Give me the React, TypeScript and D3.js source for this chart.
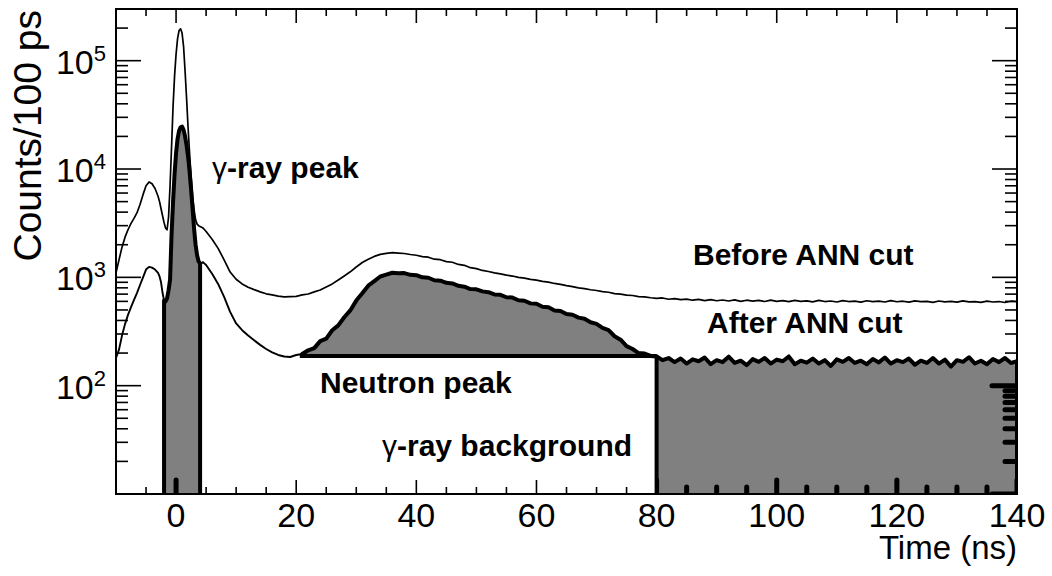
import React from 'react';
import * as d3 from 'd3';

// ---------- data ----------
// bin centres (ns): coarser far left, fine around the prompt peak, 1 ns afterwards
const TIME_NS: number[] = [
  ...d3.range(-10, -3, 0.5),
  ...d3.range(-3, 5, 0.25),
  ...d3.range(5, 141, 1),
];

const BEFORE_COUNTS: number[] = [
  // -10 .. -3.5
  1100, 1450, 1900, 2350, 2750, 3150, 3500, 3950, 4700, 5800, 7000, 7600, 7300, 6600,
  // -3 .. 4.75 (0.25 ns)
  5600, 5000, 4300, 3700, 3200, 2850, 2750, 3600, 7000, 16000,
  38000, 72000, 115000, 160000, 190000, 197000, 180000, 135000, 80000, 45000,
  24000, 14000, 8500, 5600, 4200, 3400, 3100, 3000, 2950, 2900,
  2850, 2750,
  // 5 .. 140 (1 ns)
  2650, 2250, 1850, 1450, 1120, 960, 870, 810, 770, 735,
  705, 690, 672, 660, 664, 668, 688, 702, 735, 765,
  815, 870, 945, 1030, 1125, 1245, 1370, 1470, 1560, 1630,
  1665, 1690, 1675, 1660, 1625, 1600, 1555, 1535, 1470, 1455,
  1395, 1378, 1315, 1292, 1228, 1202, 1158, 1132, 1098, 1078,
  1048, 1028, 998, 982, 958, 942, 918, 902, 878, 862,
  840, 822, 800, 786, 768, 756, 738, 728, 708, 700,
  686, 680, 664, 660, 648, 640, 645, 628, 635, 622,
  630, 615, 625, 610, 622, 608, 618, 605, 620, 600,
  615, 603, 612, 598, 616, 600, 610, 596, 612, 600,
  606, 594, 612, 598, 605, 592, 610, 598, 604, 590,
  608, 596, 603, 592, 610, 595, 602, 590, 606, 596,
  600, 588, 605, 594, 600, 590, 606, 593, 598, 588,
  604, 592, 598, 586, 602, 595,
];

const AFTER_COUNTS: number[] = [
  // -10 .. -3.5
  180, 215, 290, 370, 450, 530, 620, 720, 850, 1000, 1180, 1250, 1230, 1180,
  // -3 .. 4.75 (0.25 ns)
  1100, 1020, 900, 720, 610, 600, 640, 760, 950, 2500,
  5000, 9000, 14000, 19000, 22500, 24300, 24600, 23000, 20000, 16500,
  13000, 9500, 6500, 4300, 2800, 2000, 1600, 1400, 1350, 1360,
  1380, 1340,
  // 5 .. 140 (1 ns)
  1300, 1080, 870, 660, 480, 375, 325, 290, 262, 238,
  218, 203, 192, 186, 184, 192, 196, 212, 222, 258,
  272, 325, 360, 428, 495, 610, 712, 838, 922, 1018,
  1058, 1102, 1092, 1095, 1055, 1048, 1000, 992, 940, 932,
  890, 878, 835, 820, 780, 775, 742, 730, 695, 690,
  655, 650, 615, 608, 575, 570, 535, 530, 495, 490,
  458, 452, 425, 415, 385, 372, 342, 326, 286, 266,
  232, 218, 200, 198, 188, 186, 172, 180, 165, 178,
  160, 175, 168, 182, 158, 172, 165, 185, 162, 170,
  155, 176, 166, 180, 160, 174, 168, 186, 158, 170,
  163, 178, 160, 172, 152, 175, 166, 180, 162, 170,
  158, 176, 164, 182, 160, 172, 165, 178, 156, 170,
  162, 180, 160, 174, 150, 172, 166, 183, 160, 170,
  158, 176, 165, 180, 162, 168,
];

const X_DOMAIN: [number, number] = [-10, 140];
const Y_DOMAIN: [number, number] = [10, 3e5];
const X_MAJOR_TICKS = [0, 20, 40, 60, 80, 100, 120, 140];
const X_MINOR_STEP = 5;
const Y_MAJOR_TICKS = [10, 100, 1000, 10000, 100000];
const Y_LABEL_EXPONENTS = [2, 3, 4, 5];

const GAMMA_WINDOW: [number, number] = [-2, 4];
const NEUTRON_WINDOW: [number, number] = [20.6, 80];
const NEUTRON_BASELINE = 188;
const BACKGROUND_WINDOW: [number, number] = [80, 140];

// ---------- layout ----------
const W = 1052;
const H = 576;
const P = { left: 116, right: 1017, top: 9, bottom: 494 };
const FONT = '"Liberation Sans", Arial, Helvetica, sans-serif';
const GRAY = '#808080';

export default function App() {
  const x = d3.scaleLinear().domain(X_DOMAIN).range([P.left, P.right]);
  const y = d3.scaleLog().domain(Y_DOMAIN).range([P.bottom, P.top]);

  const before: [number, number][] = TIME_NS.map((t, i) => [t, BEFORE_COUNTS[i]]);
  const after: [number, number][] = TIME_NS.map((t, i) => [t, AFTER_COUNTS[i]]);

  const line = d3
    .line<[number, number]>()
    .x((d) => x(d[0]))
    .y((d) => y(d[1]));

  const inWin = (w: [number, number]) => (d: [number, number]) => d[0] >= w[0] && d[0] <= w[1];

  const gammaPts = after.filter(inWin(GAMMA_WINDOW));
  const neutronPts = after.filter(inWin(NEUTRON_WINDOW));
  const bgPts = after.filter(inWin(BACKGROUND_WINDOW));

  const areaFromBottom = d3
    .area<[number, number]>()
    .x((d) => x(d[0]))
    .y0(y(Y_DOMAIN[0]))
    .y1((d) => y(d[1]));
  const areaNeutron = d3
    .area<[number, number]>()
    .x((d) => x(d[0]))
    .y0(y(NEUTRON_BASELINE))
    .y1((d) => y(Math.max(d[1], NEUTRON_BASELINE)));

  const gammaArea = areaFromBottom(gammaPts) || '';
  const bgArea = areaFromBottom(bgPts) || '';
  const neutronArea = areaNeutron(neutronPts) || '';

  const gammaOutline =
    line([[GAMMA_WINDOW[0], Y_DOMAIN[0]], ...gammaPts, [GAMMA_WINDOW[1], Y_DOMAIN[0]]]) || '';
  const bgOutline =
    line([[BACKGROUND_WINDOW[0], Y_DOMAIN[0]], ...bgPts, [BACKGROUND_WINDOW[1], Y_DOMAIN[0]]]) || '';
  const neutronCurve = line(neutronPts) || '';
  const neutronBase =
    line([
      [NEUTRON_WINDOW[0], NEUTRON_BASELINE],
      [NEUTRON_WINDOW[1], NEUTRON_BASELINE],
    ]) || '';

  // ticks
  const xTicks = d3.range(X_DOMAIN[0], X_DOMAIN[1] + 0.001, X_MINOR_STEP).map((t) => ({
    t,
    major: X_MAJOR_TICKS.includes(t),
  }));
  const yTicks: { v: number; major: boolean }[] = [];
  Y_MAJOR_TICKS.forEach((dec) => {
    yTicks.push({ v: dec, major: true });
    for (let m = 2; m <= 9; m++) {
      if (dec * m <= Y_DOMAIN[1] + 1) yTicks.push({ v: dec * m, major: false });
    }
  });
  const XMAJ = 14,
    XMIN = 7,
    YMAJ = 25,
    YMIN = 12;

  const tickEls: JSX.Element[] = [];
  xTicks.forEach(({ t, major }, i) => {
    const px = x(t);
    const len = major ? XMAJ : XMIN;
    tickEls.push(<line key={'xb' + i} x1={px} x2={px} y1={P.bottom} y2={P.bottom - len} />);
    tickEls.push(<line key={'xt' + i} x1={px} x2={px} y1={P.top} y2={P.top + len} />);
  });
  yTicks.forEach(({ v, major }, i) => {
    const py = y(v);
    const len = major ? YMAJ : YMIN;
    tickEls.push(<line key={'yl' + i} x1={P.left} x2={P.left + len} y1={py} y2={py} />);
    tickEls.push(<line key={'yr' + i} x1={P.right} x2={P.right - len} y1={py} y2={py} />);
  });

  const blobEls: JSX.Element[] = [];
  xTicks.forEach(({ t, major }, i) => {
    const px = x(t);
    const len = major ? XMAJ : XMIN;
    blobEls.push(<line key={'bx' + i} x1={px} x2={px} y1={P.bottom} y2={P.bottom - len} />);
  });
  yTicks.forEach(({ v, major }, i) => {
    const py = y(v);
    const len = major ? YMAJ : YMIN;
    blobEls.push(<line key={'by' + i} x1={P.right} x2={P.right - len} y1={py} y2={py} />);
  });

  const labelStyle = { fontFamily: FONT, fontWeight: 700, fontSize: 30 } as const;

  return (
    <svg
      width={W}
      height={H}
      style={{ position: 'absolute', left: 0, top: 0, background: '#fff' }}
      fontFamily={FONT}
    >
      <defs>
        <clipPath id="shade-clip">
          <path d={gammaArea} />
          <path d={bgArea} />
        </clipPath>
        <clipPath id="plot-clip">
          <rect x={P.left} y={P.top} width={P.right - P.left} height={P.bottom - P.top} />
        </clipPath>
      </defs>
      <rect x={0} y={0} width={W} height={H} fill="#fff" />

      <g clipPath="url(#plot-clip)">
        {/* shaded regions */}
        <path d={gammaArea} fill={GRAY} />
        <path d={neutronArea} fill={GRAY} />
        <path d={bgArea} fill={GRAY} />

        {/* thin curves */}
        <path d={line(before) || ''} fill="none" stroke="#000" strokeWidth={1.7} strokeLinejoin="round" />
        <path d={line(after) || ''} fill="none" stroke="#000" strokeWidth={1.9} strokeLinejoin="round" />

        {/* thick outlines of the regions */}
        <g fill="none" stroke="#000" strokeWidth={4} strokeLinejoin="round" strokeLinecap="round">
          <path d={gammaOutline} />
          <path d={neutronCurve} />
          <path d={neutronBase} strokeLinecap="butt" />
          <path d={bgOutline} />
        </g>

        {/* tick marks re-drawn thick over shaded regions */}
        <g clipPath="url(#shade-clip)" stroke="#000" strokeWidth={5} strokeLinecap="round">
          {blobEls}
        </g>
      </g>

      {/* frame & ticks */}
      <g stroke="#000" strokeWidth={1.6}>{tickEls}</g>
      <rect
        x={P.left}
        y={P.top}
        width={P.right - P.left}
        height={P.bottom - P.top}
        fill="none"
        stroke="#000"
        strokeWidth={2}
      />

      {/* x tick labels */}
      {X_MAJOR_TICKS.map((t) => (
        <text key={'xl' + t} x={x(t)} y={527} textAnchor="middle" fontSize={34} fill="#000">
          {t}
        </text>
      ))}
      {/* y tick labels */}
      {Y_LABEL_EXPONENTS.map((e) => (
        <text key={'yl' + e} x={106} y={y(Math.pow(10, e)) + 13} textAnchor="end" fontSize={34} fill="#000">
          <tspan>10</tspan>
          <tspan dy={-13} fontSize={22}>
            {e}
          </tspan>
        </text>
      ))}

      {/* axis titles */}
      <text x={P.right} y={559} textAnchor="end" fontSize={33} fill="#000">
        Time (ns)
      </text>
      <text transform="translate(41,10) rotate(-90)" textAnchor="end" fontSize={39} fill="#000">
        Counts/100 ps
      </text>

      {/* annotations */}
      <text x={212} y={178} style={labelStyle}>
        <tspan fontWeight={400}>γ</tspan>-ray peak
      </text>
      <text x={693} y={265} style={labelStyle}>
        Before ANN cut
      </text>
      <text x={707} y={333} style={labelStyle}>
        After ANN cut
      </text>
      <text x={320} y={393} style={labelStyle}>
        Neutron peak
      </text>
      <text x={382} y={456} style={labelStyle}>
        <tspan fontWeight={400}>γ</tspan>-ray background
      </text>
    </svg>
  );
}
